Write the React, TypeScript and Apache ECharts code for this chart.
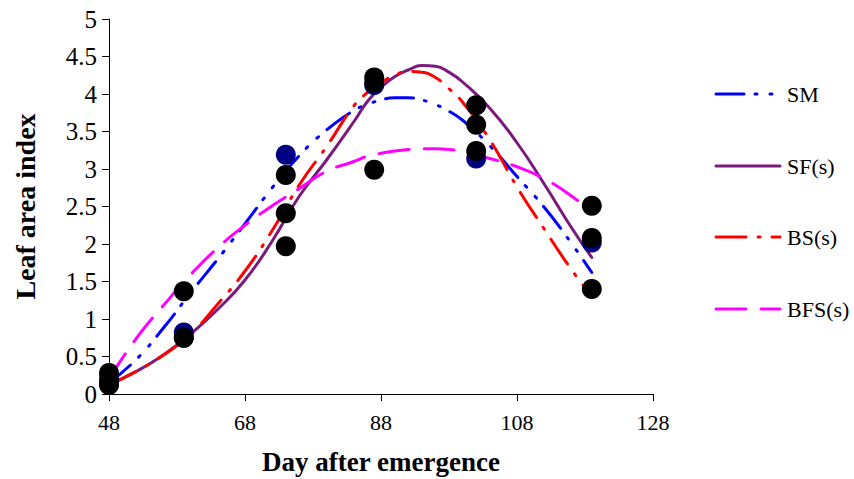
import React, { useEffect, useRef } from "react";
import * as echarts from "echarts";

// Observed sampling days
const obsDays = [48, 59, 74, 87, 102, 119];
// Observed leaf area index (markers)
const smObs = [0.2, 0.82, 3.19, 4.12, 3.14, 2.02];
const sfObs = [0.12, 0.75, 1.97, 4.15, 3.85, 2.08];
const bsObs = [0.16, 0.75, 2.41, 4.22, 3.59, 1.4];
const bfsObs = [0.28, 1.37, 2.92, 2.99, 3.24, 2.51];

// Fitted curves
const fitDays = [48, 52, 56, 60, 64, 68, 72, 76, 80, 84, 86, 88, 90, 92, 94, 96, 98, 100, 104, 108, 112, 116, 119];
const smFit = [0.15, 0.46, 0.88, 1.35, 1.8, 2.27, 2.75, 3.18, 3.52, 3.78, 3.86, 3.92, 3.95, 3.95, 3.92, 3.86, 3.77, 3.65, 3.31, 2.9, 2.49, 2.01, 1.62];
const sfFit = [0.13, 0.3, 0.52, 0.8, 1.13, 1.52, 2.04, 2.64, 3.12, 3.63, 3.9, 4.09, 4.23, 4.32, 4.38, 4.37, 4.29, 4.16, 3.81, 3.35, 2.8, 2.22, 1.82];
const bsFit = [0.12, 0.3, 0.52, 0.8, 1.2, 1.64, 2.18, 2.79, 3.3, 3.84, 4.02, 4.15, 4.25, 4.3, 4.29, 4.22, 4.07, 3.89, 3.39, 2.76, 2.2, 1.66, 1.3];
const bfsFit = [0.2, 0.74, 1.18, 1.59, 1.95, 2.25, 2.51, 2.74, 2.97, 3.1, 3.17, 3.21, 3.24, 3.26, 3.27, 3.27, 3.26, 3.23, 3.14, 3.03, 2.87, 2.64, 2.42];

const seriesNames = ["SM", "SF(s)", "BS(s)", "BFS(s)"];
const xTicks = { min: 48, max: 128, step: 20 };
const yTicks = { min: 0, max: 5, step: 0.5 };

const FONT = "Liberation Serif";

const pairs = (xs: number[], ys: number[]) => xs.map((x, i) => [x, ys[i]]);

export default function App() {
  const ref = useRef<HTMLDivElement>(null);
  useEffect(() => {
    if (!ref.current) return;
    const chart = echarts.init(ref.current, null, { renderer: "svg" });
    const lineStyles: { color: string; dash: number[] | null }[] = [
      { color: "#0000ff", dash: [28, 11, 2, 13, 2, 11] },
      { color: "#7a1a7a", dash: null },
      { color: "#ff0000", dash: [30, 12, 2, 12] },
      { color: "#ff00ff", dash: [30, 15] },
    ];
    const fits = [smFit, sfFit, bsFit, bfsFit];
    const obs = [smObs, sfObs, bsObs, bfsObs];
    const lineSeries = seriesNames.map((name, i) => ({
      name,
      type: "line",
      data: pairs(fitDays, fits[i]),
      smooth: 0.5,
      symbol: "none",
      z: 2,
      itemStyle: { color: lineStyles[i].color },
      lineStyle: {
        color: lineStyles[i].color,
        width: 3,
        type: lineStyles[i].dash || "solid",
        cap: "round",
      },
    }));
    const scatterSeries = seriesNames.map((name, i) => ({
      name: name + " obs",
      type: "scatter",
      data: pairs(obsDays, obs[i]),
      symbol: "circle",
      symbolSize: 20,
      z: i === 0 ? 3 : 4,
      itemStyle: { color: i === 0 ? "#000080" : "#000000", opacity: 1 },
    }));
    const legendX = 716;
    const legendW = 64;
    const legendY0 = 94;
    const legendStep = 71.7;
    const legendGraphics: any[] = [];
    seriesNames.forEach((name, i) => {
      const y = Math.round(legendY0 + i * legendStep);
      legendGraphics.push({
        type: "line",
        shape: { x1: legendX, y1: y, x2: legendX + legendW, y2: y },
        style: {
          stroke: lineStyles[i].color,
          lineWidth: 3,
          lineDash: lineStyles[i].dash || undefined,
          lineCap: "round",
        },
        silent: true,
      });
      legendGraphics.push({
        type: "text",
        x: legendX + legendW + 7,
        y,
        style: {
          text: name,
          fill: "#000",
          fontSize: 22,
          fontFamily: FONT,
          verticalAlign: "middle",
          textAlign: "left",
        },
        silent: true,
      });
    });
    const axisCommon = {
      axisLine: { show: true, lineStyle: { color: "#000", width: 1 } },
      axisTick: { show: true, inside: false, length: 7, lineStyle: { color: "#000" } },
      splitLine: { show: false },
      nameLocation: "middle",
    };
    chart.setOption({
      animation: false,
      backgroundColor: "#ffffff",
      grid: {
        left: 109,
        right: 201,
        top: 19,
        bottom: 85,
        containLabel: false,
        outerBoundsMode: "none",
      },
      xAxis: {
        type: "value",
        min: xTicks.min,
        max: xTicks.max,
        interval: xTicks.step,
        name: "Day after emergence",
        nameGap: 54,
        ...axisCommon,
        axisLabel: { color: "#000", fontSize: 22, fontFamily: FONT, margin: 17 },
        nameTextStyle: { color: "#000", fontSize: 27, fontWeight: "bold", fontFamily: FONT },
      },
      yAxis: {
        type: "value",
        min: yTicks.min,
        max: yTicks.max,
        interval: yTicks.step,
        name: "Leaf area index",
        nameGap: 70,
        ...axisCommon,
        axisLabel: { color: "#000", fontSize: 25, fontFamily: FONT, margin: 12 },
        nameTextStyle: { color: "#000", fontSize: 28, fontWeight: "bold", fontFamily: FONT },
      },
      graphic: legendGraphics,
      series: [...lineSeries, ...scatterSeries],
    });
    return () => chart.dispose();
  }, []);
  return (
    <div
      ref={ref}
      style={{ position: "fixed", left: 0, top: 0, width: 854, height: 479, background: "#fff" }}
    />
  );
}
